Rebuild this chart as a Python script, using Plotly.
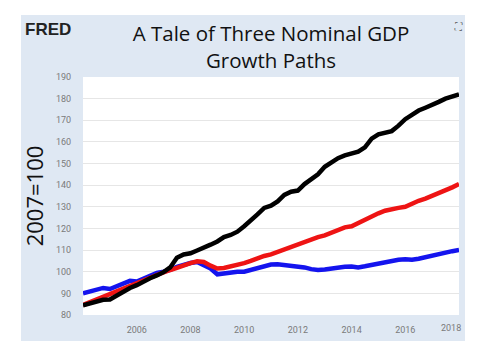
import plotly.graph_objects as go

# ---- data (quarterly, 2007=100) ----
dates = [f"{y}-{m:02d}-01" for y in range(2004, 2018) for m in (1, 4, 7, 10)] + ["2018-01-01"]

black_vals = [84.5, 85.3, 86.2, 87.0,
              87.2, 89.0, 91.0, 92.5,
              93.8, 95.5, 97.0, 98.3,
              99.8, 102.0, 106.5, 108.0,
              108.5, 109.8, 111.0, 112.5,
              114.0, 116.0, 117.0, 118.5,
              121.0, 123.5, 126.5, 129.5,
              130.5, 132.5, 135.5, 137.0,
              137.5, 140.5, 142.5, 145.0,
              148.5, 150.5, 152.5, 153.8,
              154.5, 155.5, 157.5, 161.5,
              163.5, 164.3, 165.0, 167.5,
              170.5, 172.5, 174.5, 175.8,
              177.0, 178.5, 180.0, 181.0,
              182.0]
red_vals = [84.6, 85.8, 87.0, 88.3,
            89.5, 90.8, 92.0, 93.2,
            94.3, 95.8, 97.2, 98.5,
            99.9, 100.8, 101.8, 103.0,
            104.0, 104.8, 104.5, 102.8,
            101.5, 101.7, 102.3, 103.0,
            104.0, 105.0, 106.2, 107.3,
            108.0, 109.2, 110.4, 111.5,
            112.8, 114.0, 115.0, 116.0,
            116.8, 118.0, 119.5, 120.5,
            121.0, 122.5, 124.3, 126.0,
            127.0, 128.2, 129.0, 129.5,
            130.0, 131.5, 132.8, 133.8,
            135.0, 136.2, 137.8, 139.0,
            140.5]
blue_vals = [90.0, 90.8, 92.0, 92.5,
             92.0, 93.3, 94.5, 95.8,
             95.5, 97.0, 98.3, 99.5,
             100.0, 100.8, 102.3, 103.3,
             104.0, 104.5, 103.0, 101.5,
             98.8, 99.2, 99.8, 100.0,
             100.0, 100.8, 102.0, 102.8,
             103.3, 103.5, 103.2, 102.8,
             102.5, 102.0, 101.2, 100.8,
             101.0, 101.5, 101.8, 102.3,
             102.4, 102.0, 102.5, 103.2,
             103.6, 104.2, 104.8, 105.5,
             105.8, 105.5, 106.0, 106.8,
             107.2, 108.0, 108.8, 109.5,
             110.0]

y_ticks = list(range(80, 191, 10))
x_tick_years = [2006, 2008, 2010, 2012, 2014, 2016]
x_tick_vals = [f"{y}-01-01" for y in x_tick_years]
x_tick_text = [str(y) for y in x_tick_years]
last_tick_label = "2018"

title_text = "A Tale of Three Nominal GDP<br>Growth Paths"
y_title = "2007=100"

# ---- figure ----
W, H = 500, 350
L, R, T, B = 83, 41, 77, 35
PANEL = "#dfe8f3"
TICK_FONT = dict(family="Roboto, sans-serif", size=9, color="#7a7a7a")
TITLE_FONT_FAMILY = "Open Sans, Liberation Sans, sans-serif"

fig = go.Figure()
for vals, col in [(blue_vals, "#1414ee"), (red_vals, "#ee1414"), (black_vals, "#000000")]:
    fig.add_trace(go.Scatter(x=dates, y=vals, mode="lines",
                             line=dict(color=col, width=4.5), showlegend=False,
                             hoverinfo="skip"))

pw = W - L - R
ph = H - T - B
def px_x(px):
    return (px - L) / pw
def px_y(py):
    return (H - B - py) / ph

shapes = [
    dict(type="rect", xref="paper", yref="paper",
         x0=px_x(21), x1=px_x(465), y0=px_y(341), y1=px_y(15),
         fillcolor=PANEL, line=dict(width=0), layer="below"),
    dict(type="rect", xref="paper", yref="paper", x0=0, x1=1, y0=0, y1=1,
         fillcolor="white", line=dict(width=0), layer="below"),
]

fig.update_layout(
    width=W, height=H,
    margin=dict(l=L, r=R, t=T, b=B),
    paper_bgcolor="white", plot_bgcolor="white",
    shapes=shapes,
    title=dict(text=title_text, x=(271 - L) / pw, xref="paper", xanchor="center",
               y=1 - 41 / H, yanchor="top",
               font=dict(family=TITLE_FONT_FAMILY, size=20.5, color="#111111")),
    xaxis=dict(type="date", range=["2004-01-01", "2018-01-01"],
               tickvals=x_tick_vals, ticktext=x_tick_text,
               showgrid=False, ticks="outside", ticklen=6, tickcolor="rgba(0,0,0,0)",
               tickfont=TICK_FONT, showline=False, zeroline=False),
    yaxis=dict(range=[80, 190], tickvals=y_ticks, ticktext=[str(v) for v in y_ticks],
               showgrid=True, gridcolor="#e6e6e6", gridwidth=1,
               tickfont=TICK_FONT,
               ticklen=9, ticks="outside", tickcolor="rgba(0,0,0,0)",
               zeroline=False, showline=False,
               title=dict(text=y_title, standoff=6,
                          font=dict(family=TITLE_FONT_FAMILY, size=22, color="#111111"))),
    annotations=[
        dict(text="<b>FRED</b>", xref="paper", yref="paper", x=px_x(23), y=px_y(18),
             xanchor="left", yanchor="top", showarrow=False,
             font=dict(family="Liberation Sans, Arial, sans-serif", size=17, color="#222222")),
        dict(text="⛶", xref="paper", yref="paper", x=px_x(458), y=px_y(26),
             xanchor="center", yanchor="middle", showarrow=False,
             font=dict(family="DejaVu Sans, sans-serif", size=10, color="#555555")),
        dict(text=last_tick_label, xref="paper", yref="paper", x=px_x(451), y=px_y(328),
             xanchor="center", yanchor="middle", showarrow=False, font=TICK_FONT),
    ],
)

fig.write_html("out.html")
